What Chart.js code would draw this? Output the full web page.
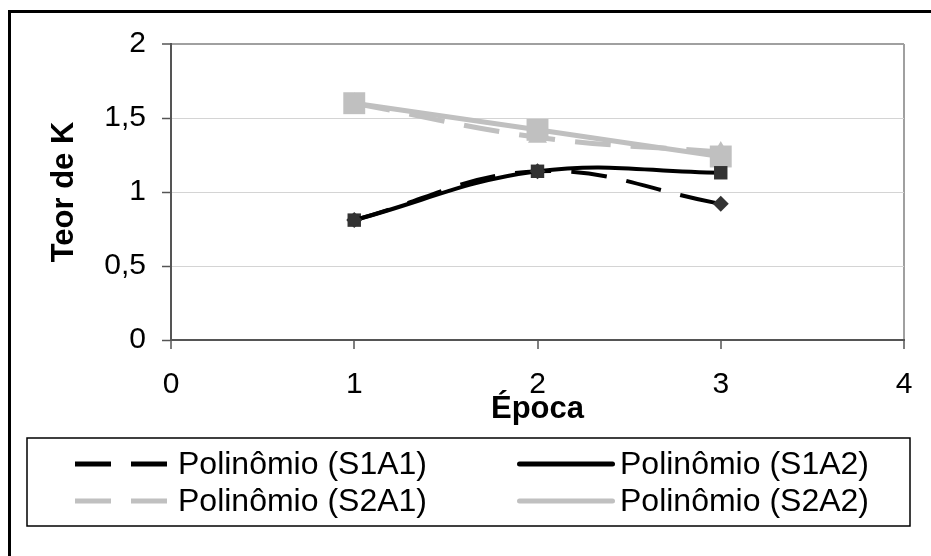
<!DOCTYPE html>
<html>
<head>
<meta charset="utf-8">
<script src="https://cdn.jsdelivr.net/npm/chart.js@4/dist/chart.umd.min.js"></script>
<style>
  html, body { margin: 0; padding: 0; background: #fff; }
  canvas { display: block; }
</style>
</head>
<body>
<canvas id="chart" width="931" height="556"></canvas>
<script>
// valores (Teor de K por época)
const epocas = [1, 2, 3];
const s1a1 = [0.81, 1.14, 0.92];
const s1a2 = [0.81, 1.14, 1.13];
const s2a1 = [1.60, 1.37, 1.27];
const s2a2 = [1.60, 1.42, 1.24];
const seriesNames = ['Polinômio (S1A1)', 'Polinômio (S1A2)', 'Polinômio (S2A1)', 'Polinômio (S2A2)'];
const xTicks = [0, 1, 2, 3, 4];
const xTickLabels = ['0', '1', '2', '3', '4'];
const yTicks = [0, 0.5, 1, 1.5, 2];
const yTickLabels = ['0', '0,5', '1', '1,5', '2'];

const FONT = "'Liberation Sans', Arial, sans-serif";

function pts(values) {
    return epocas.map((x, i) => ({ x: x, y: values[i] }));
}

function serie(label, values, color, dash, width, style, radius, pointColor) {
    return {
        label: label,
        data: pts(values),
        showLine: true,
        tension: 0.4,
        borderColor: color,
        borderWidth: width,
        borderDash: dash,
        borderCapStyle: dash.length ? 'butt' : 'round',
        pointStyle: style,
        pointRadius: radius,
        pointHoverRadius: radius,
        pointBackgroundColor: pointColor,
        pointBorderColor: pointColor,
        pointBorderWidth: 0
    };
}

// legenda no estilo Excel, com caixa e duas colunas
const excelLegend = {
    id: 'excelLegend',
    afterDraw(chart) {
        const ctx = chart.ctx;
        ctx.save();
        ctx.strokeStyle = '#000';
        ctx.lineWidth = 3;
        ctx.beginPath();
        ctx.moveTo(9.5, 556);
        ctx.lineTo(9.5, 11.5);
        ctx.lineTo(931, 11.5);
        ctx.stroke();

        ctx.lineWidth = 1.5;
        ctx.strokeRect(27, 438, 883, 88);

        ctx.font = '32px ' + FONT;
        ctx.textBaseline = 'middle';
        ctx.fillStyle = '#000';
        chart.data.datasets.forEach((ds, i) => {
            const x0 = [75, 517][i % 2];
            const y = [464, 501][Math.floor(i / 2)];
            const round = ds.borderCapStyle === 'round';
            ctx.strokeStyle = ds.borderColor;
            ctx.lineWidth = 5;
            ctx.lineCap = ds.borderCapStyle;
            ctx.setLineDash(ds.borderDash);
            ctx.beginPath();
            ctx.moveTo(x0 + (round ? 2.5 : 0), y);
            ctx.lineTo(x0 + 98 - (round ? 2.5 : 0), y);
            ctx.stroke();
            ctx.setLineDash([]);
            ctx.fillText(ds.label, x0 + 103, y + 1);
        });
        ctx.restore();
    }
};

const chart = new Chart(document.getElementById('chart').getContext('2d'), {
    type: 'scatter',
    data: {
        datasets: [
            serie(seriesNames[0], s1a1, '#000000', [36, 20], 4, 'rectRot', 8, '#333333'),
            serie(seriesNames[1], s1a2, '#000000', [], 4, 'rect', 9.5, '#333333'),
            serie(seriesNames[2], s2a1, '#c0c0c0', [36, 20], 5, 'triangle', 11, '#c0c0c0'),
            serie(seriesNames[3], s2a2, '#c0c0c0', [], 5, 'rect', 15.5, '#c0c0c0')
        ]
    },
    options: {
        responsive: false,
        animation: false,
        layout: { padding: { left: 0, top: 44, right: 27, bottom: 0 } },
        plugins: {
            legend: { display: false },
            tooltip: { enabled: false }
        },
        scales: {
            x: {
                type: 'linear',
                min: 0,
                max: 4,
                afterFit: s => { s.height = 216; },
                afterBuildTicks: s => { s.ticks = xTicks.map(v => ({ value: v })); },
                ticks: {
                    callback: v => xTickLabels[xTicks.indexOf(v)],
                    font: { family: FONT, size: 30 },
                    color: '#000',
                    padding: 18,
                    maxRotation: 0
                },
                grid: {
                    drawOnChartArea: true,
                    color: c => (c.tick && c.tick.value === 4) ? '#a0a0a0' : 'rgba(0,0,0,0)',
                    lineWidth: 2,
                    tickLength: 9,
                    tickColor: '#555',
                    tickWidth: 1.5
                },
                border: { color: '#555', width: 2 },
                title: {
                    display: true,
                    text: 'Época',
                    color: '#000',
                    font: { family: FONT, size: 31, weight: 'bold' },
                    padding: { top: 0, bottom: 128 }
                }
            },
            y: {
                min: 0,
                max: 2,
                afterFit: s => { s.width = 171; },
                afterBuildTicks: s => { s.ticks = yTicks.map(v => ({ value: v })); },
                ticks: {
                    callback: v => yTickLabels[yTicks.indexOf(v)],
                    font: { family: FONT, size: 30 },
                    color: '#000',
                    padding: 16
                },
                grid: {
                    color: c => (c.tick && c.tick.value === 2) ? '#a0a0a0' : '#d4d4d4',
                    lineWidth: c => (c.tick && c.tick.value === 2) ? 2 : 1,
                    tickLength: 9,
                    tickColor: '#555',
                    tickWidth: 1.5
                },
                border: { color: '#555', width: 2 },
                title: {
                    display: true,
                    text: 'Teor de K',
                    color: '#000',
                    font: { family: FONT, size: 31, weight: 'bold' },
                    padding: { top: 46, bottom: 0 }
                }
            }
        }
    },
    plugins: [excelLegend]
});
</script>
</body>
</html>
